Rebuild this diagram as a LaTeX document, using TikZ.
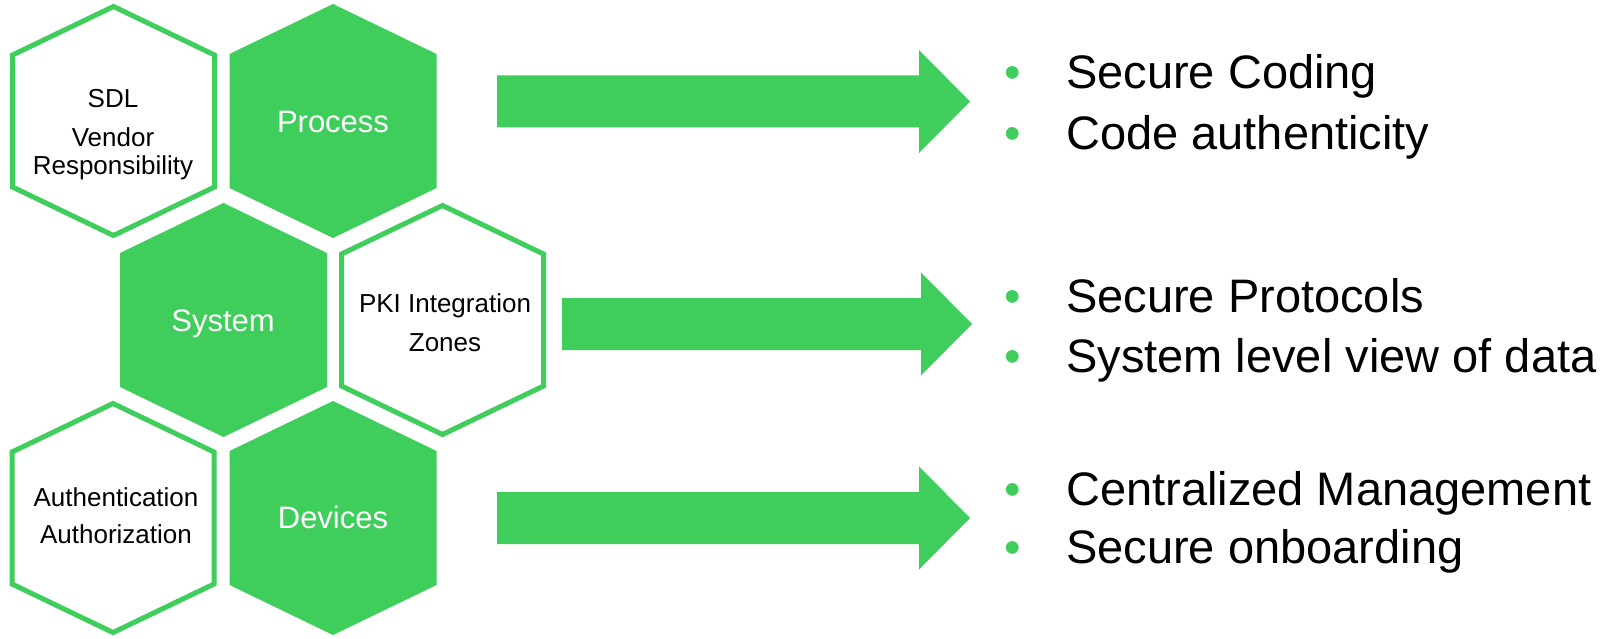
\documentclass[tikz,border=0pt]{standalone}
\usepackage{fontspec}
\setmainfont{Liberation Sans}
\usetikzlibrary{calc}
\definecolor{hexgreen}{RGB}{63,206,92}

% block arrow from the shaft end to the tip
\newcommand{\flowarrow}[2]{%
  \fill[hexgreen] ($(#1)+(0,-26)$) -- ($(#2)+(-51,-26)$) -- ($(#2)+(-51,-51.5)$)
    -- (#2) -- ($(#2)+(-51,51.5)$) -- ($(#2)+(-51,26)$) -- ($(#1)+(0,26)$) -- cycle;}
\newcommand{\bulletmark}{\makebox[62pt][l]{\textcolor{hexgreen}{\textbullet}}}

\tikzset{
  pics/solidhex/.style={code={
    \fill[hexgreen] (0,-117) -- (103.5,-67) -- (103.5,67) -- (0,117)
      -- (-103.5,67) -- (-103.5,-67) -- cycle;}},
  pics/ringhex/.style={code={
    \draw[hexgreen, line width=5pt] (0,-114.5) -- (101,-66) -- (101,66) -- (0,114.5)
      -- (-101,66) -- (-101,-66) -- cycle;}}
}

\begin{document}
\begin{tikzpicture}[
    x=1pt, y=-1pt,
    hexlabel/.style={font=\fontsize{26}{28}\selectfont, align=center, inner sep=0pt},
    corelabel/.style={font=\fontsize{31}{34}\selectfont, text=white, anchor=base, inner sep=0pt},
    point/.style={font=\fontsize{47}{56}\selectfont, anchor=base west, inner sep=0pt}
]
    \fill[white] (0,0) rectangle (1619,639);
    \useasboundingbox (0,0) rectangle (1619,639);

    % Row 1: Process
    \pic at (113.5,121) {ringhex};
    \pic at (333,121) {solidhex};
    \node[hexlabel] (sdl) at (113,135) {SDL\\[11pt]Vendor\\Responsibility};
    \node[corelabel] (process) at (333,133) {Process};

    % Row 2: System
    \pic at (223.5,320) {solidhex};
    \pic at (442.5,320) {ringhex};
    \node[corelabel] (system) at (223,331) {System};
    \node[hexlabel] (pki) at (445,323) {PKI Integration\\[11pt]Zones};

    % Row 3: Devices
    \pic at (113,518) {ringhex};
    \pic at (333,518) {solidhex};
    \node[hexlabel] (auth) at (116,516) {Authentication\\[9pt]Authorization};
    \node[corelabel] (devices) at (333,528) {Devices};

    % arrows
    \coordinate (procfrom) at (497,101.5);
    \coordinate (procto) at (970,101.5);
    \coordinate (sysfrom) at (562,324);
    \coordinate (systo) at (972,324);
    \coordinate (devfrom) at (497,518);
    \coordinate (devto) at (970,518);
    \flowarrow{procfrom}{procto}
    \flowarrow{sysfrom}{systo}
    \flowarrow{devfrom}{devto}

    % bullet points
    \node[point] (coding) at (1004,89) {\bulletmark Secure Coding};
    \node[point] (authentic) at (1004,150) {\bulletmark Code authenticity};
    \node[point] (protocols) at (1004,312) {\bulletmark Secure Protocols};
    \node[point] (dataview) at (1004,372) {\bulletmark System level view of data};
    \node[point] (central) at (1004,505) {\bulletmark Centralized Management};
    \node[point] (onboard) at (1004,563) {\bulletmark Secure onboarding};
\end{tikzpicture}
\end{document}
